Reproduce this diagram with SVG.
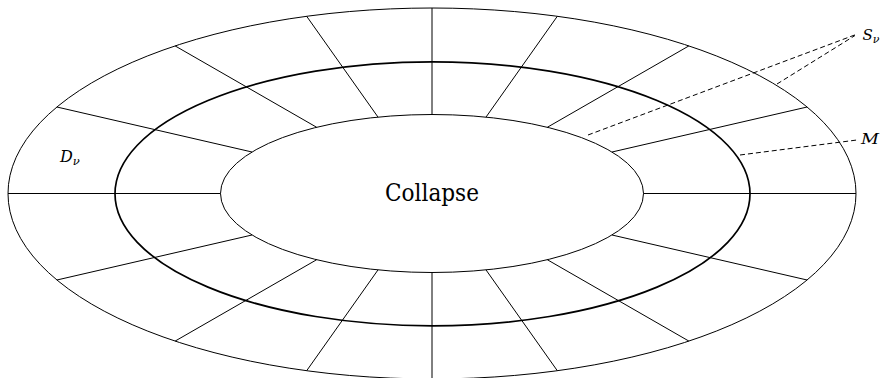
<svg xmlns="http://www.w3.org/2000/svg" width="885" height="378" viewBox="0 0 885 378">
<style>
.e{fill:none;stroke:#000;stroke-width:1}
.thick{fill:none;stroke:#000;stroke-width:1.7}
.r{stroke:#000;stroke-width:1;fill:none}
.d{stroke:#000;stroke-width:1;fill:none;stroke-dasharray:5 3}
</style>
<rect width="885" height="378" fill="#fff"/>
<g id="outer-disk"><ellipse class="e" cx="432" cy="193.5" rx="424" ry="185.5"/></g>
<g id="middle-ring"><ellipse class="thick" cx="432.5" cy="193.8" rx="317.5" ry="132"/></g>
<g id="grid">
<line class="r" x1="643.5" y1="193.5" x2="856" y2="193.5"/>
<line class="r" x1="220.5" y1="193.5" x2="8" y2="193.5"/>
<line class="r" x1="432" y1="114.5" x2="432" y2="8"/>
<line class="r" x1="432" y1="272.5" x2="432" y2="379"/>
<line class="r" x1="612" y1="152" x2="807.1" y2="107"/>
<line class="r" x1="252" y1="152" x2="56.9" y2="107"/>
<line class="r" x1="612" y1="235" x2="807.1" y2="280"/>
<line class="r" x1="252" y1="235" x2="56.9" y2="280"/>
<line class="r" x1="547.3" y1="127.3" x2="688.9" y2="45.9"/>
<line class="r" x1="316.7" y1="127.3" x2="175.1" y2="45.9"/>
<line class="r" x1="547.3" y1="259.7" x2="688.9" y2="341.1"/>
<line class="r" x1="316.7" y1="259.7" x2="175.1" y2="341.1"/>
<line class="r" x1="486" y1="117.1" x2="557.3" y2="16.3"/>
<line class="r" x1="378" y1="117.1" x2="306.7" y2="16.3"/>
<line class="r" x1="486" y1="269.9" x2="557.3" y2="370.7"/>
<line class="r" x1="378" y1="269.9" x2="306.7" y2="370.7"/>
</g>
<g id="collapse"><ellipse class="e" cx="432" cy="193.5" rx="211.5" ry="79"/>
<text x="432" y="200.5" font-family="'DejaVu Serif', serif" font-size="23.5" text-anchor="middle" textLength="94" lengthAdjust="spacingAndGlyphs">Collapse</text></g>
<g id="label-D"><text x="60" y="161.5" font-family="'DejaVu Serif', serif" font-style="italic" font-size="16">D<tspan font-size="11.5" dy="3">ν</tspan></text></g>
<g id="label-S"><text x="862.5" y="40" font-family="'DejaVu Serif', serif" font-style="italic" font-size="15">S<tspan font-size="11" dy="3">ν</tspan></text></g>
<g id="label-M"><text x="861" y="144.3" font-family="'DejaVu Serif', serif" font-style="italic" font-size="14" textLength="18" lengthAdjust="spacingAndGlyphs">M</text></g>
<g id="connectors">
<line class="d" x1="588" y1="135" x2="856" y2="34.5"/>
<line class="d" x1="777" y1="84" x2="855" y2="35.5"/>
<line class="d" x1="740" y1="155" x2="857" y2="140"/>
</g>
</svg>
